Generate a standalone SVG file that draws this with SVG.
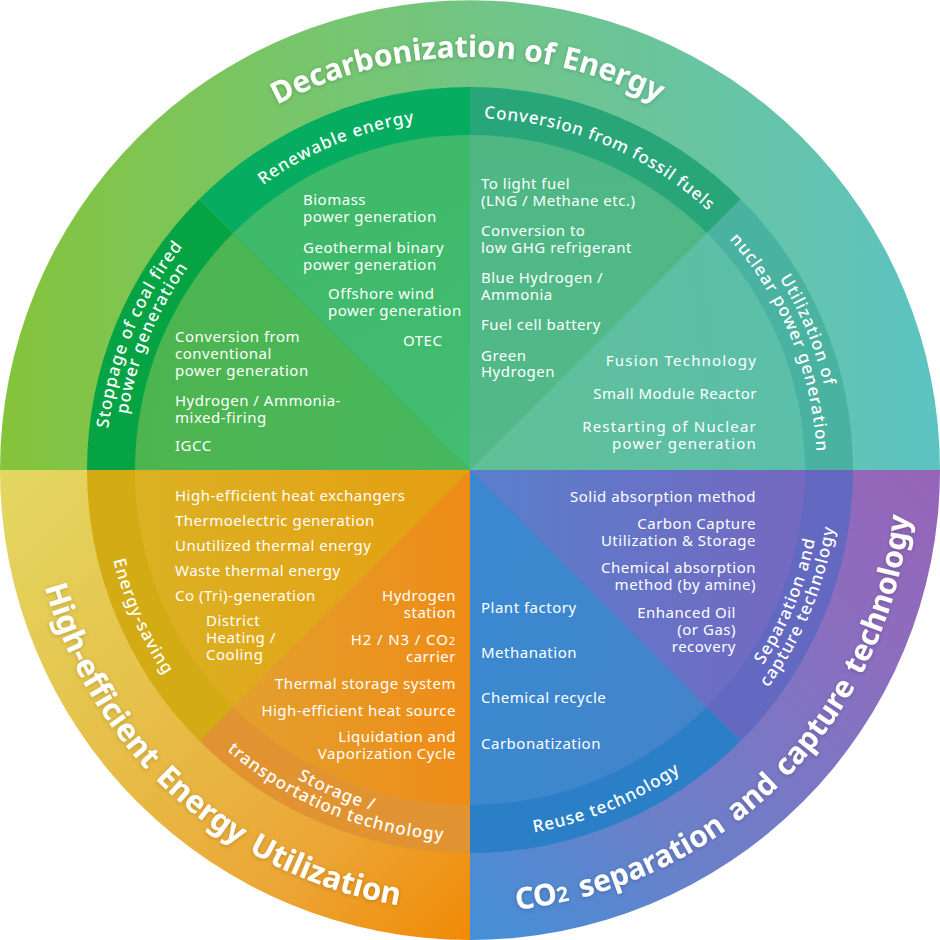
<svg xmlns="http://www.w3.org/2000/svg" width="940" height="940" viewBox="0 0 940 940">
<defs>
<style>
.t{font-family:"Noto Sans","Open Sans",sans-serif;fill:#fff;font-size:15px;letter-spacing:0.5px}
.b{font-size:17px;font-weight:500;letter-spacing:1px}
.h{font-size:30px;font-weight:700;letter-spacing:0}
.h2{font-size:31px}
.e{text-anchor:end}
.m{text-anchor:middle}
.w{letter-spacing:1.2px}
</style>
<filter id="sh" x="-10%" y="-10%" width="120%" height="120%"><feDropShadow dx="0" dy="1" stdDeviation="2" flood-color="#000" flood-opacity="0.2"/></filter>
<linearGradient id="gTop" gradientUnits="userSpaceOnUse" x1="0" y1="470" x2="940" y2="470"><stop offset="0" stop-color="#85c33a"/><stop offset="0.3" stop-color="#78c669"/><stop offset="0.5" stop-color="#72c583"/><stop offset="0.75" stop-color="#68c4a2"/><stop offset="1" stop-color="#5cc3c2"/></linearGradient>
<linearGradient id="gBL" gradientUnits="userSpaceOnUse" x1="0" y1="470" x2="470" y2="940"><stop offset="0" stop-color="#e3d862"/><stop offset="0.4" stop-color="#e6c04a"/><stop offset="0.75" stop-color="#eca534"/><stop offset="1" stop-color="#f08a05"/></linearGradient>
<linearGradient id="gBR" gradientUnits="userSpaceOnUse" x1="470" y1="940" x2="940" y2="470"><stop offset="0" stop-color="#4290d7"/><stop offset="0.3" stop-color="#6881ca"/><stop offset="0.75" stop-color="#8d6dbe"/><stop offset="1" stop-color="#9664b8"/></linearGradient>
<linearGradient id="iA" gradientUnits="userSpaceOnUse" x1="300" y1="150" x2="470" y2="470"><stop offset="0" stop-color="#3eb968"/><stop offset="1" stop-color="#42bd72"/></linearGradient>
<linearGradient id="iB" gradientUnits="userSpaceOnUse" x1="135" y1="420" x2="470" y2="470"><stop offset="0" stop-color="#4db54f"/><stop offset="1" stop-color="#47b75e"/></linearGradient>
<linearGradient id="iC" gradientUnits="userSpaceOnUse" x1="480" y1="140" x2="470" y2="470"><stop offset="0" stop-color="#4fb784"/><stop offset="1" stop-color="#52ba89"/></linearGradient>
<linearGradient id="iD" gradientUnits="userSpaceOnUse" x1="470" y1="470" x2="805" y2="420"><stop offset="0" stop-color="#60c096"/><stop offset="1" stop-color="#5bbfaa"/></linearGradient>
<linearGradient id="iE" gradientUnits="userSpaceOnUse" x1="135" y1="500" x2="470" y2="500"><stop offset="0" stop-color="#dbb124"/><stop offset="1" stop-color="#e59f10"/></linearGradient>
<linearGradient id="iF" gradientUnits="userSpaceOnUse" x1="233" y1="720" x2="470" y2="720"><stop offset="0" stop-color="#e3a02f"/><stop offset="1" stop-color="#ee8c16"/></linearGradient>
<linearGradient id="iG" gradientUnits="userSpaceOnUse" x1="470" y1="650" x2="706" y2="700"><stop offset="0" stop-color="#3a89d0"/><stop offset="1" stop-color="#4384ca"/></linearGradient>
<linearGradient id="iH" gradientUnits="userSpaceOnUse" x1="470" y1="480" x2="805" y2="480"><stop offset="0" stop-color="#587fcc"/><stop offset="1" stop-color="#7468c0"/></linearGradient>
<path id="pDec" d="M63.27,398.28 A413,413 0 0 1 876.73,398.28"/>
<path id="pRen" d="M126.34,546.19 A352,352 0 0 1 766.87,280.87"/>
<path id="pSt1" d="M274.42,777 A364,364 0 0 1 548.78,114.63"/>
<path id="pSt2" d="M283.56,762.66 A347,347 0 0 1 545.1,131.22"/>
<path id="pFos" d="M173.13,280.87 A352,352 0 0 1 813.66,546.19"/>
<path id="pNu1" d="M391.22,114.63 A364,364 0 0 1 665.58,777"/>
<path id="pNu2" d="M394.9,131.22 A347,347 0 0 1 656.44,762.66"/>
<path id="pHi" d="M108.75,217.05 A441,441 0 0 0 722.95,831.25"/>
<path id="pCO" d="M216.48,832.06 A442,442 0 0 0 832.06,216.48"/>
<path id="pEn" d="M272.27,159.63 A368,368 0 0 0 549.65,829.28"/>
<path id="pSo1" d="M124.39,393.38 A354,354 0 0 0 768.56,660.2"/>
<path id="pSo2" d="M107.79,389.7 A371,371 0 0 0 782.9,669.34"/>
<path id="pRe" d="M159.63,667.73 A368,368 0 0 0 829.28,390.35"/>
<path id="pSe1" d="M393.81,813.66 A352,352 0 0 0 659.13,173.13"/>
<path id="pSe2" d="M390.13,830.25 A369,369 0 0 0 668.26,158.79"/>
</defs>

<g id="decarbonization-of-energy">
<path d="M0,470 A470,470 0 0 1 940,470 Z" fill="url(#gTop)"/>
<g class="t h m" filter="url(#sh)">
<text><textPath href="#pDec" startOffset="498.7">Decarbonization</textPath></text>
<text><textPath href="#pDec" startOffset="644.8">of</textPath></text>
<text><textPath href="#pDec" startOffset="720.1">Energy</textPath></text>
</g>
</g>
<g id="high-efficient-energy-utilization">
<path d="M470,470 L470,940 A470,470 0 0 1 0,470 Z" fill="url(#gBL)"/>
<g class="t h h2 m" filter="url(#sh)">
<text><textPath href="#pHi" startOffset="493">High-efficient</textPath></text>
<text><textPath href="#pHi" startOffset="664.3">Energy</textPath></text>
<text><textPath href="#pHi" startOffset="810">Utilization</textPath></text>
</g>
</g>
<g id="co2-separation-and-capture">
<path d="M470,470 L940,470 A470,470 0 0 1 470,940 Z" fill="url(#gBR)"/>
<g class="t h m" filter="url(#sh)">
<text><textPath href="#pCO" startOffset="343.6">CO<tspan font-size="21">2</tspan></textPath></text>
<text><textPath href="#pCO" startOffset="463.4">separation</textPath></text>
<text><textPath href="#pCO" startOffset="584">and</textPath></text>
<text><textPath href="#pCO" startOffset="680.9">capture</textPath></text>
<text><textPath href="#pCO" startOffset="833.8">technology</textPath></text>
</g>
</g>

<g id="stoppage-of-coal">
<path d="M470,470 L87,470 A383,383 0 0 1 199.18,199.18 Z" fill="#05a343"/>
<path d="M470,470 L135,470 A335,335 0 0 1 233.12,233.12 Z" fill="url(#iB)"/>
<text class="t b e"><textPath href="#pSt1" startOffset="558.4">Stoppage of coal</textPath></text>
<text class="t b"><textPath href="#pSt1" startOffset="563.8">fired</textPath></text>
<text class="t b m"><textPath href="#pSt2" startOffset="50%">power generation</textPath></text>
<text class="t" x="175" y="342">Conversion from<tspan x="175" y="359">conventional</tspan><tspan x="175" y="376">power generation</tspan></text>
<text class="t" x="175" y="406">Hydrogen / Ammonia-<tspan x="175" y="423">mixed-firing</tspan></text>
<text class="t" x="175" y="451">IGCC</text>
</g>

<g id="renewable-energy">
<path d="M470,470 L199.18,199.18 A383,383 0 0 1 470,87 Z" fill="#06ad61"/>
<path d="M470,470 L233.12,233.12 A335,335 0 0 1 470,135 Z" fill="url(#iA)"/>
<text class="t b m"><textPath href="#pRen" startOffset="50%">Renewable energy</textPath></text>
<text class="t" x="303" y="205">Biomass<tspan x="303" y="222">power generation</tspan></text>
<text class="t" x="303" y="253">Geothermal binary<tspan x="303" y="270">power generation</tspan></text>
<text class="t" x="328" y="299">Offshore wind<tspan x="328" y="316">power generation</tspan></text>
<text class="t" x="403" y="346">OTEC</text>
</g>

<g id="conversion-from-fossil-fuels">
<path d="M470,470 L470,87 A383,383 0 0 1 740.82,199.18 Z" fill="#29a57a"/>
<path d="M470,470 L470,135 A335,335 0 0 1 706.88,233.12 Z" fill="url(#iC)"/>
<text class="t b e" style="letter-spacing:0.8px"><textPath href="#pFos" startOffset="514.8">Conversion from</textPath></text>
<text class="t b" style="letter-spacing:0.8px"><textPath href="#pFos" startOffset="520">fossil fuels</textPath></text>
<text class="t" x="481" y="189">To light fuel<tspan x="481" y="206">(LNG / Methane etc.)</tspan></text>
<text class="t" x="481" y="236">Conversion to<tspan x="481" y="253">low GHG refrigerant</tspan></text>
<text class="t" x="481" y="283">Blue Hydrogen /<tspan x="481" y="300">Ammonia</tspan></text>
<text class="t" x="481" y="330">Fuel cell battery</text>
<text class="t" x="481" y="361">Green<tspan x="481" y="377">Hydrogen</tspan></text>
</g>

<g id="nuclear-power">
<path d="M470,470 L740.82,199.18 A383,383 0 0 1 853,470 Z" fill="#4ab2a0"/>
<path d="M470,470 L706.88,233.12 A335,335 0 0 1 805,470 Z" fill="url(#iD)"/>
<text class="t b m"><textPath href="#pNu1" startOffset="50%">Utilization of</textPath></text>
<text class="t b e"><textPath href="#pNu2" startOffset="436.4">nuclear</textPath></text>
<text class="t b"><textPath href="#pNu2" startOffset="441.8">power generation</textPath></text>
<text class="t e w" x="757" y="366">Fusion Technology</text>
<text class="t e" x="757" y="399">Small Module Reactor</text>
<text class="t e w" x="757" y="432">Restarting of Nuclear<tspan x="757" y="449">power generation</tspan></text>
</g>

<g id="energy-saving">
<path d="M470,470 L199.18,740.82 A383,383 0 0 1 87,470 Z" fill="#d3ac15"/>
<path d="M470,470 L233.12,706.88 A335,335 0 0 1 135,470 Z" fill="url(#iE)"/>
<text class="t b m"><textPath href="#pEn" startOffset="51%">Energy-saving</textPath></text>
<text class="t" x="175" y="501">High-efficient heat exchangers</text>
<text class="t" x="175" y="526">Thermoelectric generation</text>
<text class="t" x="175" y="551">Unutilized thermal energy</text>
<text class="t" x="175" y="576">Waste thermal energy</text>
<text class="t" x="175" y="601">Co (Tri)-generation</text>
<text class="t" x="206" y="626">District<tspan x="206" y="643">Heating /</tspan><tspan x="206" y="660">Cooling</tspan></text>
</g>

<g id="storage-transportation">
<path d="M470,470 L470,853 A383,383 0 0 1 199.18,740.82 Z" fill="#e19332"/>
<path d="M470,470 L470,805 A335,335 0 0 1 233.12,706.88 Z" fill="url(#iF)"/>
<text class="t b m"><textPath href="#pSo1" startOffset="50%">Storage /</textPath></text>
<text class="t b e"><textPath href="#pSo2" startOffset="531.2">transportation</textPath></text>
<text class="t b"><textPath href="#pSo2" startOffset="536.6">technology</textPath></text>
<text class="t e" x="456" y="601">Hydrogen<tspan x="456" y="618">station</tspan></text>
<text class="t e" x="456" y="645" style="letter-spacing:0.9px">H2 / N3 / CO<tspan font-size="11">2</tspan><tspan x="456" y="662" style="letter-spacing:0.5px">carrier</tspan></text>
<text class="t e" x="456" y="689">Thermal storage system</text>
<text class="t e" x="456" y="716">High-efficient heat source</text>
<text class="t e" x="456" y="742">Liquidation and<tspan x="456" y="759">Vaporization Cycle</tspan></text>
</g>

<g id="reuse-technology">
<path d="M470,470 L740.82,740.82 A383,383 0 0 1 470,853 Z" fill="#2a7fc6"/>
<path d="M470,470 L706.88,706.88 A335,335 0 0 1 470,805 Z" fill="url(#iG)"/>
<text class="t b m"><textPath href="#pRe" startOffset="50%">Reuse technology</textPath></text>
<text class="t" x="481" y="613">Plant factory</text>
<text class="t" x="481" y="658">Methanation</text>
<text class="t" x="481" y="703">Chemical recycle</text>
<text class="t" x="481" y="749">Carbonatization</text>
</g>

<g id="separation-capture">
<path d="M470,470 L853,470 A383,383 0 0 1 740.82,740.82 Z" fill="#6368c1"/>
<path d="M470,470 L805,470 A335,335 0 0 1 706.88,706.88 Z" fill="url(#iH)"/>
<text class="t b m"><textPath href="#pSe1" startOffset="50%">Separation and</textPath></text>
<text class="t b m"><textPath href="#pSe2" startOffset="50%">capture technology</textPath></text>
<text class="t e" x="756" y="502">Solid absorption method</text>
<text class="t e" x="756" y="529">Carbon Capture<tspan x="756" y="546">Utilization &amp; Storage</tspan></text>
<text class="t e" x="756" y="573">Chemical absorption<tspan x="756" y="590">method (by amine)</tspan></text>
<text class="t e" x="736" y="618">Enhanced Oil<tspan x="736" y="635">(or Gas)</tspan><tspan x="736" y="652">recovery</tspan></text>
</g>
</svg>
